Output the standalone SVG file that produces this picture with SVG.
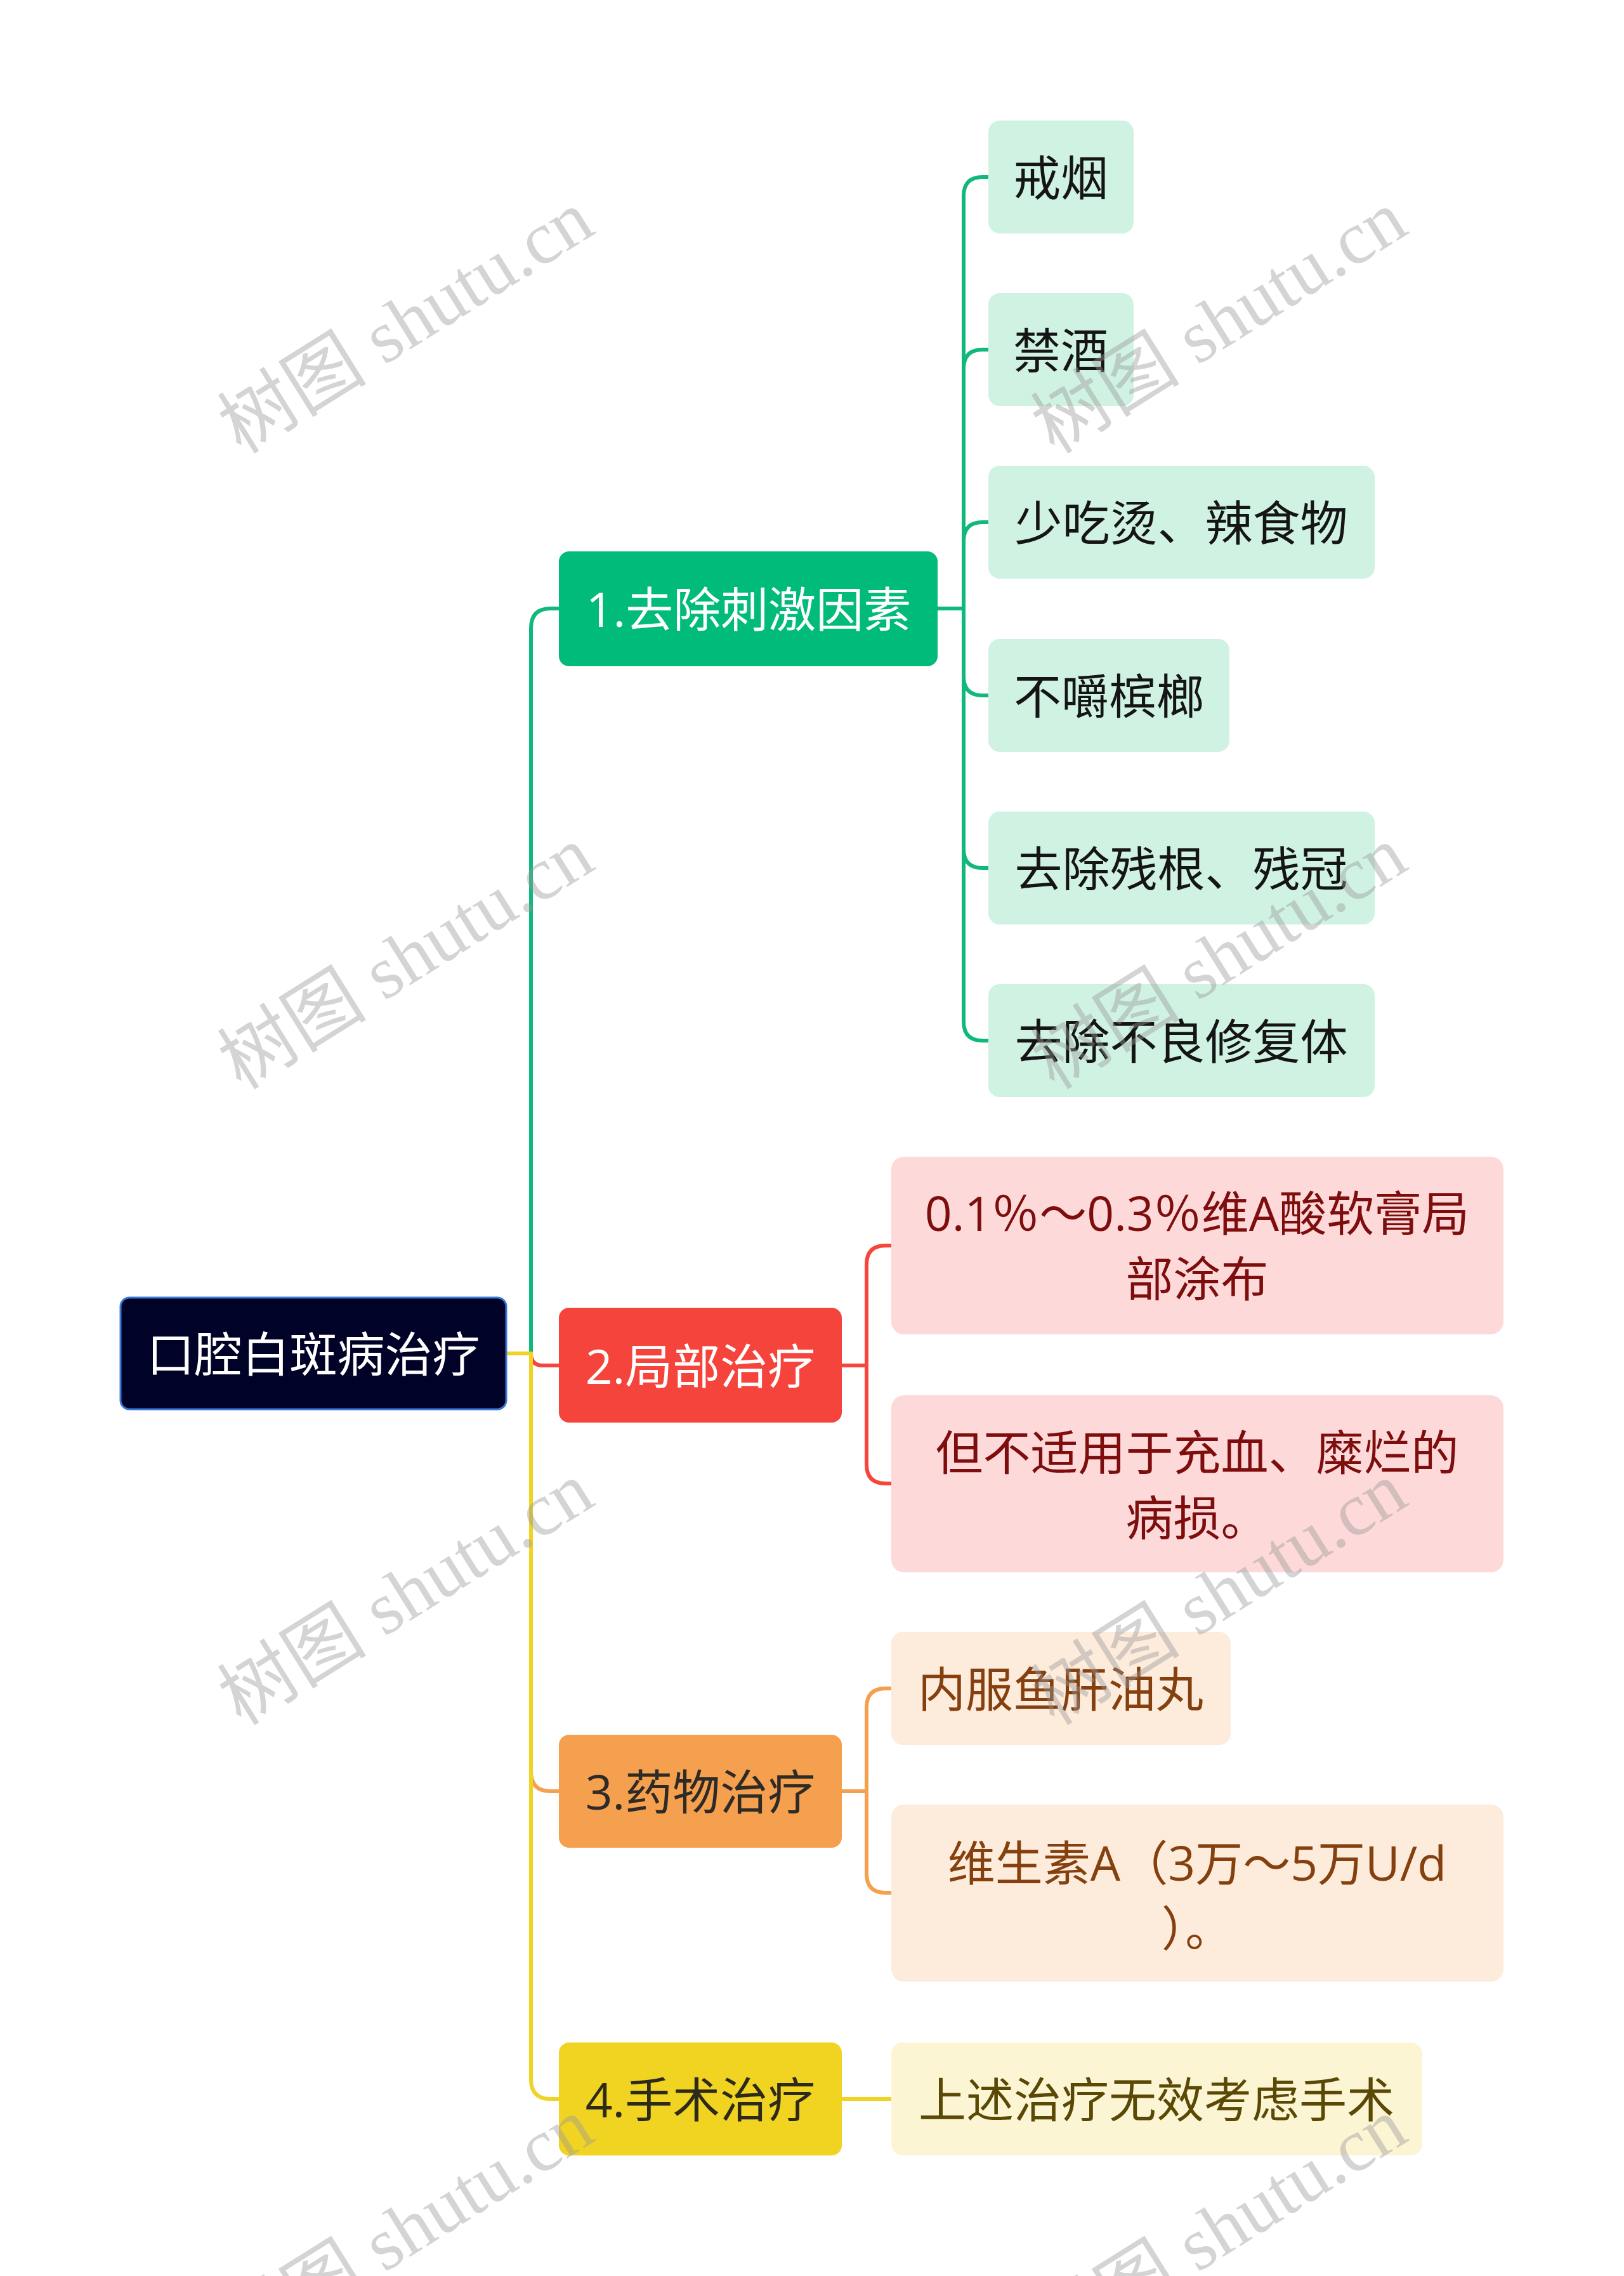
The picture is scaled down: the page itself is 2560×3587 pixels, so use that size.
<svg xmlns="http://www.w3.org/2000/svg" width="2560" height="3587" viewBox="0 0 2560 3587">
<style>
text{font-family:"Open Sans","Noto Sans CJK SC",sans-serif;font-size:75px;text-anchor:middle;dominant-baseline:central}
.e{fill:none;stroke-width:6;stroke-linecap:round;stroke-linejoin:round}
.g{stroke:#10b97b}.r{stroke:#f5453d}.o{stroke:#f5a04f}.y{stroke:#f0d323}
.gc{fill:#cff2e3}.gt{fill:#151515}
.rc{fill:#fdd9d9}.rt{fill:#7e0d0d}
.oc{fill:#fdebdb}.ot{fill:#84400e}
.yc{fill:#fcf5d4}.yt{fill:#5a4905}
.wm{font-family:"Liberation Serif","Noto Sans CJK SC",serif;font-size:118px;fill:#999;fill-opacity:0.42}
</style>
<rect width="2560" height="3587" fill="#fff"/>
<g id="connectors">
<path class="e g" d="M798,2133 H837 V990 Q837,959 868,959 H881"/>
<path class="e r" d="M798,2133 H837 Q837,2152 856,2152 H881"/>
<path class="e o" d="M798,2133 H837 V2792 Q837,2823 868,2823 H881"/>
<path class="e y" d="M798,2133 H837 V3277 Q837,3308 868,3308 H881"/>
<path class="e g" d="M1478,959 H1519 V309 Q1519,279 1549,279 H1558"/>
<path class="e g" d="M1478,959 H1519 V581 Q1519,551 1549,551 H1558"/>
<path class="e g" d="M1478,959 H1519 V853 Q1519,823 1549,823 H1558"/>
<path class="e g" d="M1478,959 H1519 V1066 Q1519,1096 1549,1096 H1558"/>
<path class="e g" d="M1478,959 H1519 V1338 Q1519,1368 1549,1368 H1558"/>
<path class="e g" d="M1478,959 H1519 V1610 Q1519,1640 1549,1640 H1558"/>
<path class="e r" d="M1327,2152 H1366 V1993 Q1366,1963 1396,1963 H1405"/>
<path class="e r" d="M1327,2152 H1366 V2308 Q1366,2338 1396,2338 H1405"/>
<path class="e o" d="M1327,2823 H1366 V2691 Q1366,2661 1396,2661 H1405"/>
<path class="e o" d="M1327,2823 H1366 V2953 Q1366,2983 1396,2983 H1405"/>
<path class="e y" d="M1327,3308 H1405"/>
</g>
<g id="root">
<rect x="190" y="2045" width="608" height="176" rx="14" fill="#000228" stroke="#3a78d8" stroke-width="3"/>
<text x="494" y="2133" fill="#fff">口腔白斑病治疗</text>
</g>
<g id="b1">
<rect x="881" y="869" width="597" height="181" rx="16" fill="#00bb7a"/>
<text x="1180" y="959" fill="#fff">1.去除刺激因素</text>
</g>
<g id="b2">
<rect x="881" y="2061" width="446" height="181" rx="16" fill="#f5443c"/>
<text x="1104" y="2152" fill="#fff">2.局部治疗</text>
</g>
<g id="b3">
<rect x="881" y="2734" width="446" height="178" rx="16" fill="#f5a04e"/>
<text x="1104" y="2823" fill="#2e2a26">3.药物治疗</text>
</g>
<g id="b4">
<rect x="881" y="3219" width="446" height="178" rx="16" fill="#f1d422"/>
<text x="1104" y="3308" fill="#2e2a1a">4.手术治疗</text>
</g>
<g id="c1"><rect class="gc" x="1558" y="190" width="229" height="178" rx="18"/><text class="gt" x="1672" y="279">戒烟</text></g>
<g id="c2"><rect class="gc" x="1558" y="462" width="229" height="178" rx="18"/><text class="gt" x="1672" y="551">禁酒</text></g>
<g id="c3"><rect class="gc" x="1558" y="734" width="609" height="178" rx="18"/><text class="gt" x="1862" y="823">少吃烫、辣食物</text></g>
<g id="c4"><rect class="gc" x="1558" y="1007" width="380" height="178" rx="18"/><text class="gt" x="1748" y="1096">不嚼槟榔</text></g>
<g id="c5"><rect class="gc" x="1558" y="1279" width="609" height="178" rx="18"/><text class="gt" x="1862" y="1368">去除残根、残冠</text></g>
<g id="c6"><rect class="gc" x="1558" y="1551" width="609" height="178" rx="18"/><text class="gt" x="1862" y="1640">去除不良修复体</text></g>
<g id="r1"><rect class="rc" x="1405" y="1823" width="965" height="280" rx="20"/><text class="rt" x="1887" y="1911">0.1％～0.3％维A酸软膏局</text><text class="rt" x="1887" y="2014">部涂布</text></g>
<g id="r2"><rect class="rc" x="1405" y="2199" width="965" height="279" rx="20"/><text class="rt" x="1887" y="2288">但不适用于充血、糜烂的</text><text class="rt" x="1887" y="2391">病损。</text></g>
<g id="o1"><rect class="oc" x="1405" y="2572" width="535" height="178" rx="18"/><text class="ot" x="1672" y="2661">内服鱼肝油丸</text></g>
<g id="o2"><rect class="oc" x="1405" y="2844" width="965" height="279" rx="20"/><text class="ot" x="1887" y="2935">维生素A（3万～5万U/d</text><text class="ot" x="1887" y="3038">）。</text></g>
<g id="y1"><rect class="yc" x="1405" y="3219" width="837" height="178" rx="18"/><text class="yt" x="1823" y="3308">上述治疗无效考虑手术</text></g>
<g id="watermarks">
<text class="wm" transform="translate(640,508) rotate(-32)">树图 shutu.cn</text>
<text class="wm" transform="translate(1922,508) rotate(-32)">树图 shutu.cn</text>
<text class="wm" transform="translate(640,1510) rotate(-32)">树图 shutu.cn</text>
<text class="wm" transform="translate(1922,1510) rotate(-32)">树图 shutu.cn</text>
<text class="wm" transform="translate(640,2512) rotate(-32)">树图 shutu.cn</text>
<text class="wm" transform="translate(1922,2512) rotate(-32)">树图 shutu.cn</text>
<text class="wm" transform="translate(640,3514) rotate(-32)">树图 shutu.cn</text>
<text class="wm" transform="translate(1922,3514) rotate(-32)">树图 shutu.cn</text>
</g>
</svg>
